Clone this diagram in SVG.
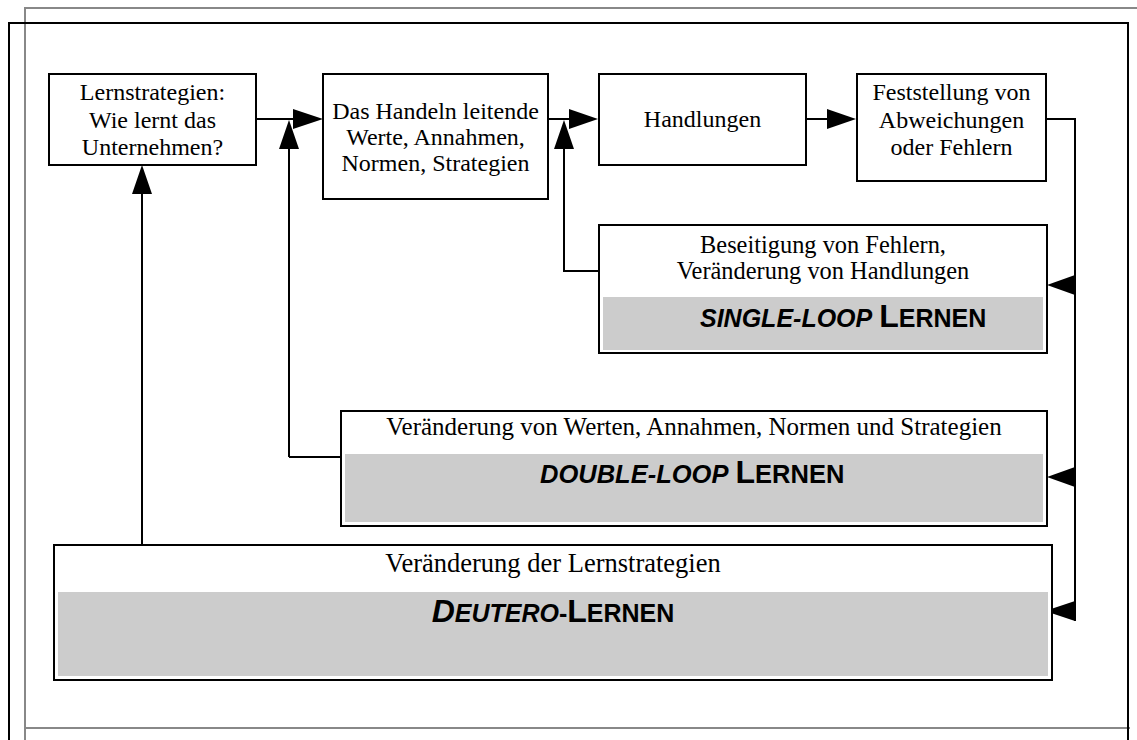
<svg xmlns="http://www.w3.org/2000/svg" width="1137" height="740" viewBox="0 0 1137 740">
<style>
.box{fill:#fff;stroke:#000;stroke-width:2}
.band{fill:#cccccc;stroke:none}
.t{font-family:"Liberation Serif","Times New Roman",serif;font-size:24px;fill:#000;text-anchor:middle}
.b{font-family:"Liberation Sans",Arial,sans-serif;font-weight:bold;font-size:25px;fill:#000}
.big{font-size:32px}
.it{font-style:italic}
.ln{fill:none;stroke:#000;stroke-width:2}
.ah{fill:#000;stroke:none}
</style>
<rect width="1137" height="740" fill="#fff"/>
<g id="frame">
<path d="M25,740 V8 H1137" fill="none" stroke="#888" stroke-width="2"/>
<path d="M25,728 H1130" fill="none" stroke="#888" stroke-width="2"/>
<path d="M9,740 V23 H1128 V740" fill="none" stroke="#000" stroke-width="2"/>
</g>
<g id="connectors">
<path class="ln" d="M256,119 H300"/>
<polygon class="ah" points="323,119 293,109 293,129"/>
<path class="ln" d="M289,457 V140"/>
<polygon class="ah" points="289,120 279,149 299,149"/>
<path class="ln" d="M289,457 H341"/>
<path class="ln" d="M548,119 H575"/>
<polygon class="ah" points="598,119 569,109 569,129"/>
<path class="ln" d="M599,271 H564 V140"/>
<polygon class="ah" points="564,120 554,149 574,149"/>
<path class="ln" d="M806,119 H832"/>
<polygon class="ah" points="856,119 827,109 827,129"/>
<path class="ln" d="M1046,119 H1075 V621"/>
<polygon class="ah" points="1047,285 1075,275 1075,295"/>
<polygon class="ah" points="1047,477 1075,467 1075,487"/>
<polygon class="ah" points="1045,611 1075,601 1075,621"/>
<path class="ln" d="M142,545 V185"/>
<polygon class="ah" points="142,165 132,194 152,194"/>
</g>
<g id="lernstrategien">
<rect class="box" x="49" y="74" width="207" height="91"/>
<text class="t" x="152.5" y="100">Lernstrategien:</text>
<text class="t" x="152.5" y="127.5">Wie lernt das</text>
<text class="t" x="152.5" y="155">Unternehmen?</text>
</g>
<g id="werte">
<rect class="box" x="323" y="74" width="225" height="125"/>
<text class="t" x="435.5" y="119">Das Handeln leitende</text>
<text class="t" x="435.5" y="145">Werte, Annahmen,</text>
<text class="t" x="435.5" y="171">Normen, Strategien</text>
</g>
<g id="handlungen">
<rect class="box" x="599" y="74" width="207" height="91"/>
<text class="t" x="702.5" y="127">Handlungen</text>
</g>
<g id="feststellung">
<rect class="box" x="857" y="74" width="189" height="107"/>
<text class="t" x="951.5" y="100">Feststellung von</text>
<text class="t" x="951.5" y="128">Abweichungen</text>
<text class="t" x="951.5" y="155">oder Fehlern</text>
</g>
<g id="single-loop">
<rect class="box" x="599" y="225" width="448" height="128"/>
<rect class="band" x="603" y="297" width="440" height="53"/>
<text class="t" x="823" y="253" style="font-size:24.4px">Beseitigung von Fehlern,</text>
<text class="t" x="823" y="279" style="font-size:24.4px">Veränderung von Handlungen</text>
<text class="b" x="700" y="327"><tspan class="it">SINGLE-LOOP</tspan> <tspan class="big">L</tspan>ERNEN</text>
</g>
<g id="double-loop">
<rect class="box" x="341" y="411" width="706" height="115"/>
<rect class="band" x="345" y="454" width="698" height="68"/>
<text class="t" x="694" y="435" style="font-size:25px">Veränderung von Werten, Annahmen, Normen und Strategien</text>
<text class="b" x="540" y="483" style="font-size:25.5px"><tspan class="it">DOUBLE-LOOP</tspan> <tspan class="big">L</tspan>ERNEN</text>
</g>
<g id="deutero">
<rect class="box" x="54" y="545" width="998" height="135"/>
<rect class="band" x="58" y="592" width="990" height="84"/>
<text class="t" x="553" y="572" style="font-size:26.5px">Veränderung der Lernstrategien</text>
<text class="b" x="553" y="622" text-anchor="middle"><tspan class="it"><tspan class="big">D</tspan>EUTERO</tspan>-<tspan class="big">L</tspan>ERNEN</text>
</g>
</svg>
